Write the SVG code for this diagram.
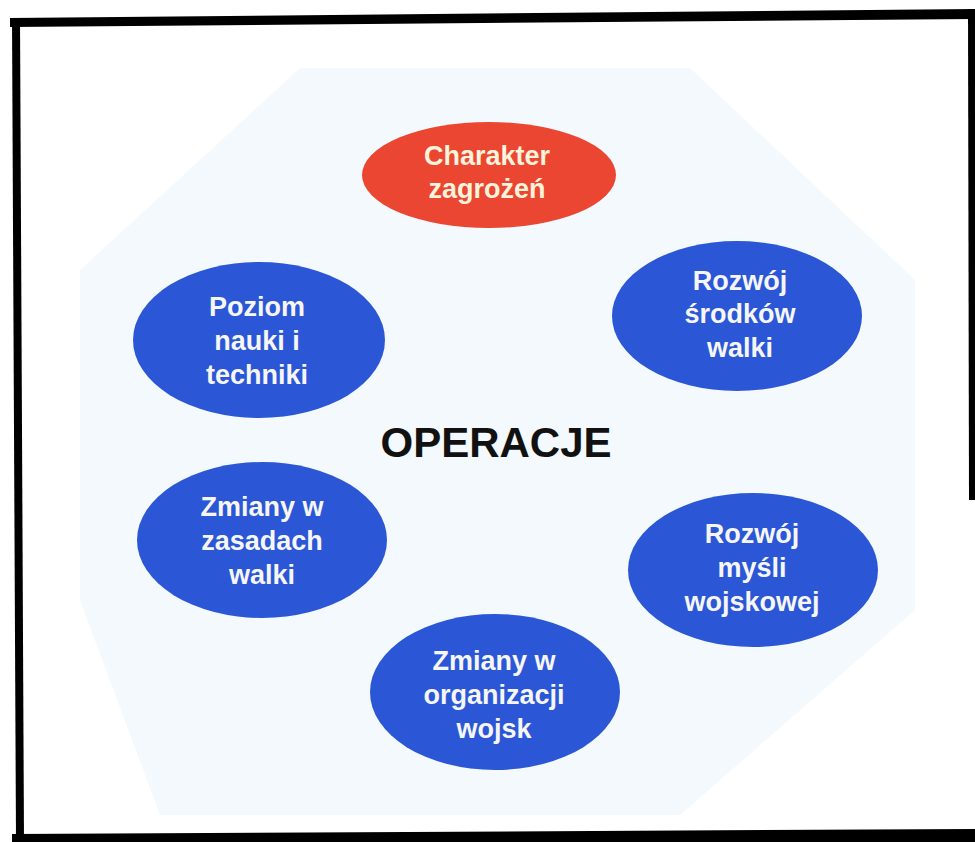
<svg xmlns="http://www.w3.org/2000/svg" width="975" height="842" viewBox="0 0 975 842">
<style>
  .node-blue { fill: #2b57d6; }
  .node-red { fill: #ea4632; }
  .lbl { font-family: "Liberation Sans", Arial, sans-serif; font-weight: bold; font-size: 27px; text-anchor: middle; fill: #f6f6f6; }
  .lbl-red { fill: #fff3dc; }
  .title { font-family: "Liberation Sans", Arial, sans-serif; font-weight: bold; font-size: 42px; text-anchor: middle; fill: #111111; }
</style>
<rect x="0" y="0" width="975" height="842" fill="#ffffff"/>
<!-- frame -->
<g id="frame" fill="#000000">
  <polygon points="10,18 975,9 975,19 10,27"/>
  <polygon points="12,18 20,18 24,842 16,842"/>
  <polygon points="12,834 975,829 975,842 12,842"/>
  <polygon points="968,9 975,9 975,500 969,500"/>
</g>
<!-- octagon background -->
<polygon id="background" points="300,68 690,68 915,280 915,610 680,815 160,815 80,600 80,270" fill="#f3f9fc"/>
<g id="connectors"></g>
<g id="n-charakter">
  <ellipse class="node-red" cx="489" cy="175" rx="127" ry="53"/>
  <text class="lbl lbl-red" x="487" y="165">Charakter</text>
  <text class="lbl lbl-red" x="487" y="198">zagrożeń</text>
</g>
<g id="n-poziom">
  <ellipse class="node-blue" cx="259" cy="340" rx="126" ry="78"/>
  <text class="lbl" x="257" y="316">Poziom</text>
  <text class="lbl" x="257" y="350">nauki i</text>
  <text class="lbl" x="257" y="384">techniki</text>
</g>
<g id="n-srodki">
  <ellipse class="node-blue" cx="737" cy="316" rx="125" ry="75"/>
  <text class="lbl" x="740" y="290">Rozwój</text>
  <text class="lbl" x="740" y="323">środków</text>
  <text class="lbl" x="740" y="357">walki</text>
</g>
<g id="n-zasady">
  <ellipse class="node-blue" cx="262" cy="540" rx="125" ry="78"/>
  <text class="lbl" x="262" y="516">Zmiany w</text>
  <text class="lbl" x="262" y="550">zasadach</text>
  <text class="lbl" x="262" y="584">walki</text>
</g>
<g id="n-mysl">
  <ellipse class="node-blue" cx="753" cy="570" rx="125" ry="77"/>
  <text class="lbl" x="752" y="543">Rozwój</text>
  <text class="lbl" x="752" y="577">myśli</text>
  <text class="lbl" x="752" y="611">wojskowej</text>
</g>
<g id="n-organizacja">
  <ellipse class="node-blue" cx="495" cy="692" rx="125" ry="78"/>
  <text class="lbl" x="494" y="670">Zmiany w</text>
  <text class="lbl" x="494" y="704">organizacji</text>
  <text class="lbl" x="494" y="738">wojsk</text>
</g>
<g id="n-operacje">
  <text class="title" x="496" y="457">OPERACJE</text>
</g>
</svg>
